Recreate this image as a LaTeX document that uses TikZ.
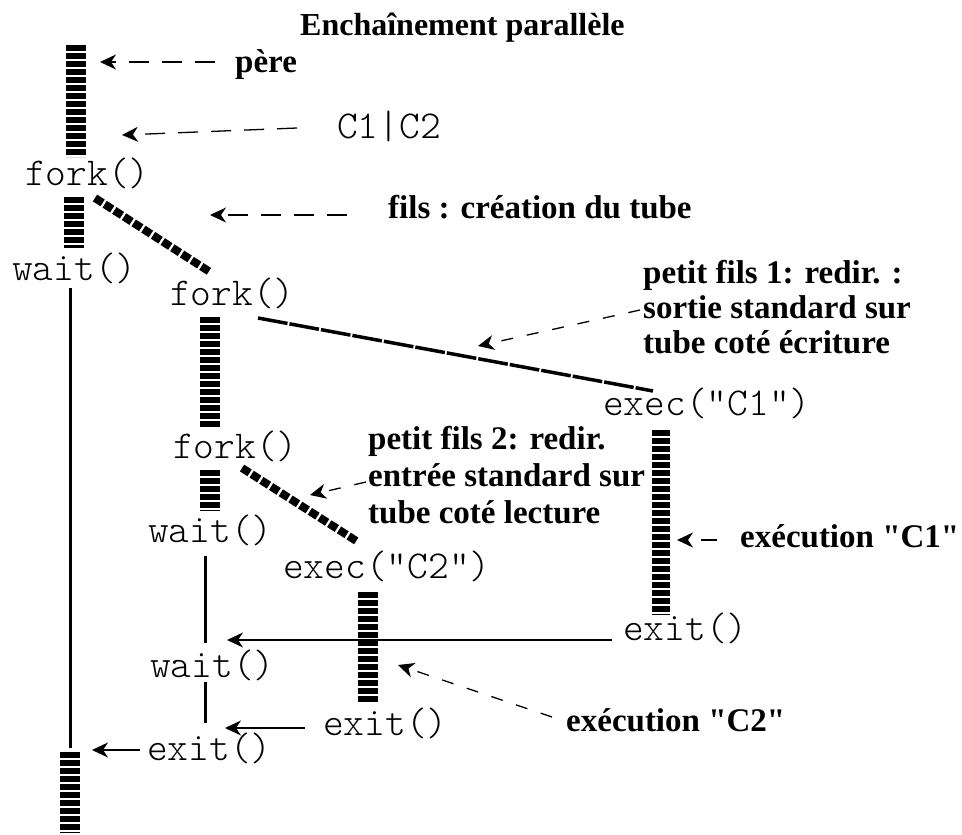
\documentclass[tikz,border=0pt]{standalone}
\usepackage{fontspec}
\setmainfont{Liberation Serif}[Ligatures=TeXOff]
\newfontfamily\codefont{Latin Modern Mono Light}
\usetikzlibrary{arrows.meta}

\tikzset{
  lbl/.style={inner sep=0pt, anchor=base west, font=\fontsize{33}{36}\selectfont\bfseries},
  code/.style={inner sep=0pt, anchor=base west, font=\fontsize{39.5}{42}\selectfont\codefont},
  ttl/.style={inner sep=0pt, anchor=base west, font=\fontsize{32}{36}\selectfont\bfseries},
  % striped process bars
  stripebar/.style={line width=20pt, dash pattern=on 6pt off 2pt},
  stripediag/.style={line width=8pt, dash pattern=on 9pt off 2.5pt},
  thindiag/.style={line width=3.5pt, dash pattern=on 30pt off 2pt},
  lifeline/.style={line width=3pt},
  tip/.style={-{Stealth[length=16pt,width=15pt,inset=5pt]}},
  note/.style={tip, line width=1.3pt, dash pattern=on 20pt off 13pt},
  shortnote/.style={tip, line width=1.3pt, dash pattern=on 12pt off 14pt},
  msg/.style={tip, line width=1.5pt},
}

\begin{document}
\begin{tikzpicture}[x=1pt, y=-1pt]
\useasboundingbox[fill=white] (0,0) rectangle (962,835);

% title
\node[ttl] (title) at (300,35) {Enchaînement parallèle};

% program texts
\node[code] (fork1) at (25,185) {fork()};
\node[code] (wait1) at (12,280) {wait()};
\node[code] (fork2) at (170,305) {fork()};
\node[code] (execA) at (603,415) {exec("C1")};
\node[code] (fork3) at (173,458) {fork()};
\node[code] (wait2) at (148,542) {wait()};
\node[code] (execB) at (283,578) {exec("C2")};
\node[code] (exitA) at (623,640) {exit()};
\node[code] (wait3) at (150,677) {wait()};
\node[code] (exitB) at (323,735) {exit()};
\node[code] (exitP) at (147,760) {exit()};
\node[code] (cmd)   at (337,138) {C1|C2};

% annotations
\node[lbl] (pere) at (235,72) {père};
\node[lbl] (fils) at (388,218) {fils : création du tube};
\node[lbl] (pf1a) at (643,283) {petit fils 1: redir. :};
\node[lbl] (pf1b) at (643,318) {sortie standard sur};
\node[lbl] (pf1c) at (643,353) {tube coté écriture};
\node[lbl] (pf2a) at (368,449) {petit fils 2: redir.};
\node[lbl] (pf2b) at (368,486) {entrée standard sur};
\node[lbl] (pf2c) at (368,523) {tube coté lecture};
\node[lbl] (runA) at (740,547) {exécution "C1"};
\node[lbl] (runB) at (566,731) {exécution "C2"};

% process bars and lines
\draw[stripebar] (75.5,45) -- (75.5,157);
\draw[stripebar] (74,197) -- (74,248);
\draw[stripediag] (95,198) -- (210,272);
\draw[lifeline] (70,288) -- (70,748);
\draw[stripebar] (210,317) -- (210,428);
\draw[thindiag] (258,318) -- (653,391);
\draw[line width=18pt, dash pattern=on 6pt off 2pt] (661,430) -- (661,615);
\draw[stripebar] (210,470) -- (210,511);
\draw[stripediag] (242,468) -- (358,542);
\draw[lifeline] (205,556) -- (205,643);
\draw[lifeline] (205,682) -- (205,723);
\draw[stripebar] (368,592) -- (368,702);
\draw[stripebar] (70,752) -- (70,833);

% arrow targets
\coordinate (tPere) at (100,62);
\coordinate (tCmd)  at (122,135);
\coordinate (tFils) at (210,215);
\coordinate (tPf1)  at (478,346);
\coordinate (tRunA) at (677,540);
\coordinate (tPf2)  at (310,495);
\coordinate (tRunB) at (398,665);
\coordinate (tExA)  at (227,640);
\coordinate (tExB)  at (225,728);
\coordinate (tExP)  at (92,750);

% annotation arrows
\draw[note] ([xshift=-20pt,yshift=10pt]pere.base west) -- (tPere);
\draw[note] ([xshift=-40pt,yshift=10pt]cmd.base west) -- (tCmd);
\draw[note] ([xshift=-41pt,yshift=3pt]fils.base west) -- (tFils);
\draw[shortnote] ([xshift=-3pt,yshift=8pt]pf1b.base west) -- (tPf1);
\draw[tip, line width=1.3pt, dash pattern=on 16pt off 23pt]
      ([xshift=-23pt,yshift=7pt]runA.base west) -- (tRunA);
\draw[shortnote] ([xshift=-2pt,yshift=4pt]pf2b.base west) -- (tPf2);
\draw[shortnote] ([xshift=-14pt,yshift=14pt]runB.base west) -- (tRunB);

% exit notifications
\draw[msg] ([xshift=-11pt]exitA.base west) -- (tExA);
\draw[msg] ([xshift=-18pt,yshift=7pt]exitB.base west) -- (tExB);
\draw[msg] ([xshift=-7pt,yshift=10pt]exitP.base west) -- (tExP);
\end{tikzpicture}
\end{document}
